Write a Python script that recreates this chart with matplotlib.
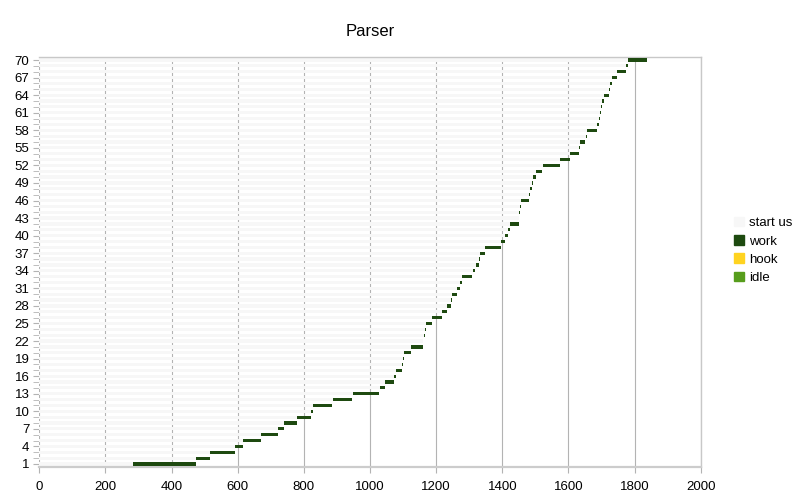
import matplotlib.pyplot as plt
import numpy as np
from matplotlib.patches import Patch

plt.rcParams['font.family'] = ['Liberation Sans', 'DejaVu Sans']

# rows 1..70, start time and end time of work (us)
rows = np.arange(1, 71)
start_us = [284, 474, 517, 592, 617, 671, 722, 739, 780, 823,
            829, 887, 948, 1029, 1046, 1072, 1078, 1096, 1101, 1104,
            1125, 1159, 1162, 1167, 1168, 1188, 1217, 1232, 1244, 1247,
            1264, 1273, 1278, 1310, 1321, 1329, 1333, 1347, 1397, 1409,
            1417, 1423, 1449, 1451, 1454, 1455, 1481, 1485, 1490, 1494,
            1501, 1522, 1573, 1605, 1631, 1635, 1652, 1655, 1687, 1692,
            1695, 1698, 1701, 1707, 1721, 1727, 1731, 1747, 1775, 1780]
work = [189, 42, 74, 25, 53, 50, 17, 40, 43, 6,
        57, 60, 80, 17, 26, 6, 18, 5, 3, 21,
        34, 2, 5, 1, 20, 29, 15, 12, 3, 17,
        8, 5, 31, 8, 8, 4, 14, 50, 11, 8,
        6, 26, 2, 3, 1, 26, 4, 5, 4, 7,
        20, 51, 32, 26, 4, 16, 3, 32, 5, 3,
        3, 3, 6, 14, 6, 4, 16, 28, 5, 57]
hook = [0] * 70
idle = [0] * 70

c_start = '#f7f7f7'
c_work = '#1e4a10'
c_hook = '#ffd320'
c_idle = '#579d1c'
grid_c = '#b3b3b3'

fig = plt.figure(figsize=(8, 5.01), dpi=100)
ax = fig.add_axes([0.049, 0.0685, 0.827, 0.8171])

start_us = np.array(start_us)
work = np.array(work)
hook = np.array(hook)
idle = np.array(idle)
h = 0.55
ax.barh(rows, start_us, height=h, color=c_start, zorder=2)
ax.barh(rows, work, left=start_us, height=h, color=c_work, zorder=3)
ax.barh(rows, hook, left=start_us + work, height=h, color=c_hook, zorder=3)
ax.barh(rows, idle, left=start_us + work + hook, height=h, color=c_idle, zorder=3)

ax.set_xlim(0, 2000)
ax.set_ylim(0.54, 70.46)
ax.set_xticks(np.arange(0, 2001, 200))
ax.set_yticks(np.arange(1, 71, 3))
ax.set_yticks(rows, minor=True)
ax.xaxis.grid(True, color=grid_c, linewidth=0.8, zorder=1)
ax.set_axisbelow(True)

for s in ['top', 'right']:
    ax.spines[s].set_color('#c8c8c8')
    ax.spines[s].set_linewidth(1.0)
ax.spines['bottom'].set_color('#cccccc')
ax.spines['bottom'].set_linewidth(1.6)
ax.spines['left'].set_visible(False)

ax.tick_params(axis='x', colors=grid_c, labelcolor='black', labelsize=9.5, length=4, pad=6)
ax.tick_params(axis='y', which='both', colors=grid_c, labelcolor='black', labelsize=9.5, length=4, pad=3)

ax.set_title('Parser', fontsize=12, pad=15)

handles = [Patch(color=c_start, label='start us'),
           Patch(color=c_work, label='work'),
           Patch(color=c_hook, label='hook'),
           Patch(color=c_idle, label='idle')]
fig.legend(handles=handles, loc='center left', bbox_to_anchor=(0.903, 0.5),
           frameon=False, fontsize=9.5, handlelength=0.7, handleheight=0.7,
           handletextpad=0.4, labelspacing=0.45)

fig.savefig('out.png', dpi=100)
